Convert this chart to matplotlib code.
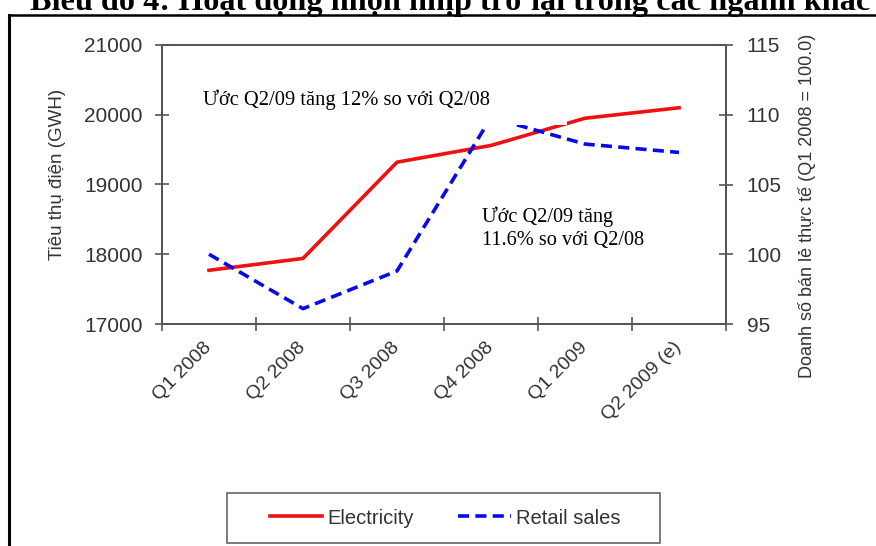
import matplotlib
matplotlib.use("Agg")
import matplotlib.pyplot as plt
from matplotlib.patches import Rectangle
from matplotlib.lines import Line2D
from matplotlib.transforms import ScaledTranslation

plt.rcParams['font.family'] = ['Liberation Sans', 'DejaVu Sans']
plt.rcParams['lines.scale_dashes'] = False

# ---- data ----
categories = ["Q1 2008", "Q2 2008", "Q3 2008", "Q4 2008", "Q1 2009", "Q2 2009 (e)"]
electricity = [17770, 17940, 19320, 19560, 19950, 20100]
retail_sales = [100.0, 96.1, 98.8, 109.8, 107.9, 107.3]
left_ticks = [17000, 18000, 19000, 20000, 21000]
right_ticks = [95, 100, 105, 110, 115]

title = "Biểu đồ 4: Hoạt động nhộn nhịp trở lại trong các ngành khác"
left_label = "Tiêu thụ điện (GWH)"
right_label = "Doanh số bán lẻ thực tế (Q1 2008 = 100.0)"
note1 = "Ước Q2/09 tăng 12% so với Q2/08"
note2 = "Ước Q2/09 tăng\n11.6% so với Q2/08"

W, H = 876, 546
fig = plt.figure(figsize=(W / 100, H / 100), dpi=100)

def fx(px):
    return px / W

def fy(py):
    return 1 - py / H

ax_l, ax_r, ax_t, ax_b = 162, 726, 45, 324
ax = fig.add_axes([fx(ax_l), fy(ax_b), fx(ax_r - ax_l), (ax_b - ax_t) / H])
ax2 = ax.twinx()

red = '#ee1111'
blue = '#0a0ae8'
spine_c = '#555555'
text_c = '#333333'

x = list(range(len(categories)))
l1, = ax.plot(x, electricity, color=red, lw=2.6, label='Electricity', zorder=3)
l2, = ax2.plot(x, retail_sales, color=blue, lw=2.6, ls=(0, (8, 4.5)),
               label='Retail sales', zorder=3)

ax.set_xlim(-0.5, len(categories) - 0.5)
ax.set_ylim(left_ticks[0], left_ticks[-1])
ax2.set_ylim(right_ticks[0], right_ticks[-1])
ax.set_yticks(left_ticks)
ax2.set_yticks(right_ticks)
ax.set_xticks([i - 0.5 for i in range(len(categories) + 1)])
ax.set_xticklabels([])
ax.set_xticks(x, minor=True)
ax.set_xticklabels(categories, minor=True, rotation=45, ha='right',
                   rotation_mode='anchor', va='center')
shift = ScaledTranslation(7 / 100, 0, fig.dpi_scale_trans)
for lab in ax.get_xticklabels(minor=True):
    lab.set_transform(lab.get_transform() + shift)

for a in (ax, ax2):
    for s in a.spines.values():
        s.set_color(spine_c)
        s.set_linewidth(1.3)
ax.tick_params(axis='both', which='major', direction='inout', length=10,
               width=1.2, color=spine_c, labelsize=15, labelcolor=text_c, pad=9)
ax.tick_params(axis='x', which='minor', length=0, labelsize=14,
               labelcolor=text_c, pad=15)
ax2.tick_params(axis='y', which='major', direction='inout', length=10,
                width=1.2, color=spine_c, labelsize=15, labelcolor=text_c, pad=10)

ax.set_ylabel(left_label, fontsize=13.5, color=text_c)
ax.yaxis.set_label_coords((66 - ax_l) / (ax_r - ax_l), (ax_b - 174) / (ax_b - ax_t))
ax2.set_ylabel(right_label, fontsize=13, color=text_c)
ax2.yaxis.set_label_coords((798 - ax_l) / (ax_r - ax_l), (ax_b - 206) / (ax_b - ax_t))

# white annotation box hiding the line peak
fig.add_artist(Rectangle((fx(195), fy(125)), fx(567 - 195), (125 - 80) / H,
                         transform=fig.transFigure, facecolor='white',
                         edgecolor='none', zorder=5))
fig.text(fx(203), fy(100), note1, family='Liberation Serif', fontsize=14.8,
         ha='left', va='center', color='black', zorder=6)
fig.text(fx(482), fy(228), note2, family='Liberation Serif', fontsize=14.6,
         ha='left', va='center', color='black', zorder=6, linespacing=1.25)

# legend
leg = fig.legend(handles=[l1, l2], loc='center', ncol=2, frameon=False,
                 bbox_to_anchor=(fx(445), fy(518)), fontsize=14.5,
                 handlelength=2.6, handletextpad=0.25, columnspacing=2.2)
for t in leg.get_texts():
    t.set_color(text_c)
fig.add_artist(Rectangle((fx(227), fy(543)), fx(660 - 227), (543 - 493) / H,
                         transform=fig.transFigure, facecolor='none',
                         edgecolor='#666666', lw=1.2, zorder=4))

# outer frame (cut off at right and bottom)
fig.add_artist(Line2D([fx(9), fx(9)], [fy(15), -0.05], transform=fig.transFigure,
                      color='black', lw=2.2))
fig.add_artist(Line2D([fx(9), 1.05], [fy(15), fy(15)], transform=fig.transFigure,
                      color='black', lw=1.8))

# title partially cut at top (as in the reference)
fig.text(fx(450), fy(10), title, family='Liberation Serif', fontweight='bold',
         fontsize=23.2, ha='center', va='baseline', color='black')

fig.savefig('out.png', dpi=100)
